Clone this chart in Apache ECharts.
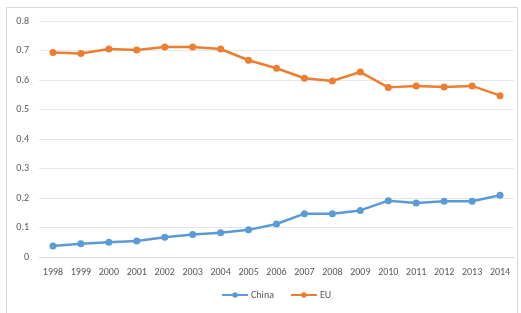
<!DOCTYPE html>
<html>
<head>
<meta charset="utf-8">
<script src="https://cdn.jsdelivr.net/npm/echarts@6/dist/echarts.min.js"></script>
<style>
  html, body { margin: 0; padding: 0; background: #fff; }
  #chart { width: 521px; height: 313px; }
</style>
</head>
<body>
<div id="chart"></div>
<script>
// 年份
const years = ['1998', '1999', '2000', '2001', '2002', '2003', '2004', '2005', '2006',
  '2007', '2008', '2009', '2010', '2011', '2012', '2013', '2014']
// 中国
const china = [0.037, 0.045, 0.050, 0.054, 0.067, 0.076, 0.082, 0.092, 0.112,
  0.147, 0.147, 0.158, 0.191, 0.183, 0.189, 0.189, 0.209]
// 欧盟
const eu = [0.693, 0.690, 0.705, 0.702, 0.712, 0.712, 0.705, 0.667, 0.640,
  0.606, 0.597, 0.627, 0.575, 0.580, 0.576, 0.580, 0.547]

const chart = echarts.init(document.getElementById('chart'))
const textColor = '#595959'
const font = 'Calibri, "Liberation Sans", "Noto Sans", sans-serif'

chart.setOption({
  animation: false,
  textStyle: { fontFamily: font },
  graphic: [{
    type: 'rect',
    shape: { x: 6.5, y: 7.5, width: 511, height: 310 },
    style: { fill: 'none', stroke: '#d9d9d9', lineWidth: 1 },
    silent: true
  }],
  grid: { left: 39, right: 7, top: 21, bottom: 56 },
  legend: {
    bottom: 8,
    left: 216,
    itemWidth: 26,
    itemHeight: 7,
    itemGap: 16,
    textStyle: { color: textColor, fontSize: 10, fontFamily: font, padding: [0, 0, 0, -2] },
    data: ['China', 'EU']
  },
  xAxis: {
    type: 'category',
    data: years,
    boundaryGap: true,
    axisLine: { show: true, lineStyle: { color: '#d9d9d9' } },
    axisTick: { show: false },
    axisLabel: { color: textColor, fontSize: 10, margin: 10, interval: 0 }
  },
  yAxis: {
    type: 'value',
    min: 0,
    max: 0.8,
    interval: 0.1,
    axisLine: { show: false },
    axisTick: { show: false },
    axisLabel: { color: textColor, fontSize: 10, margin: 10 },
    splitLine: { lineStyle: { color: '#e6e6e6' } }
  },
  series: [
    {
      name: 'China',
      type: 'line',
      data: china,
      color: '#5B9BD5',
      symbol: 'circle',
      symbolSize: 7,
      lineStyle: { width: 2.5 }
    },
    {
      name: 'EU',
      type: 'line',
      data: eu,
      color: '#ED7D31',
      symbol: 'circle',
      symbolSize: 7,
      lineStyle: { width: 2.5 }
    }
  ]
})
</script>
</body>
</html>
